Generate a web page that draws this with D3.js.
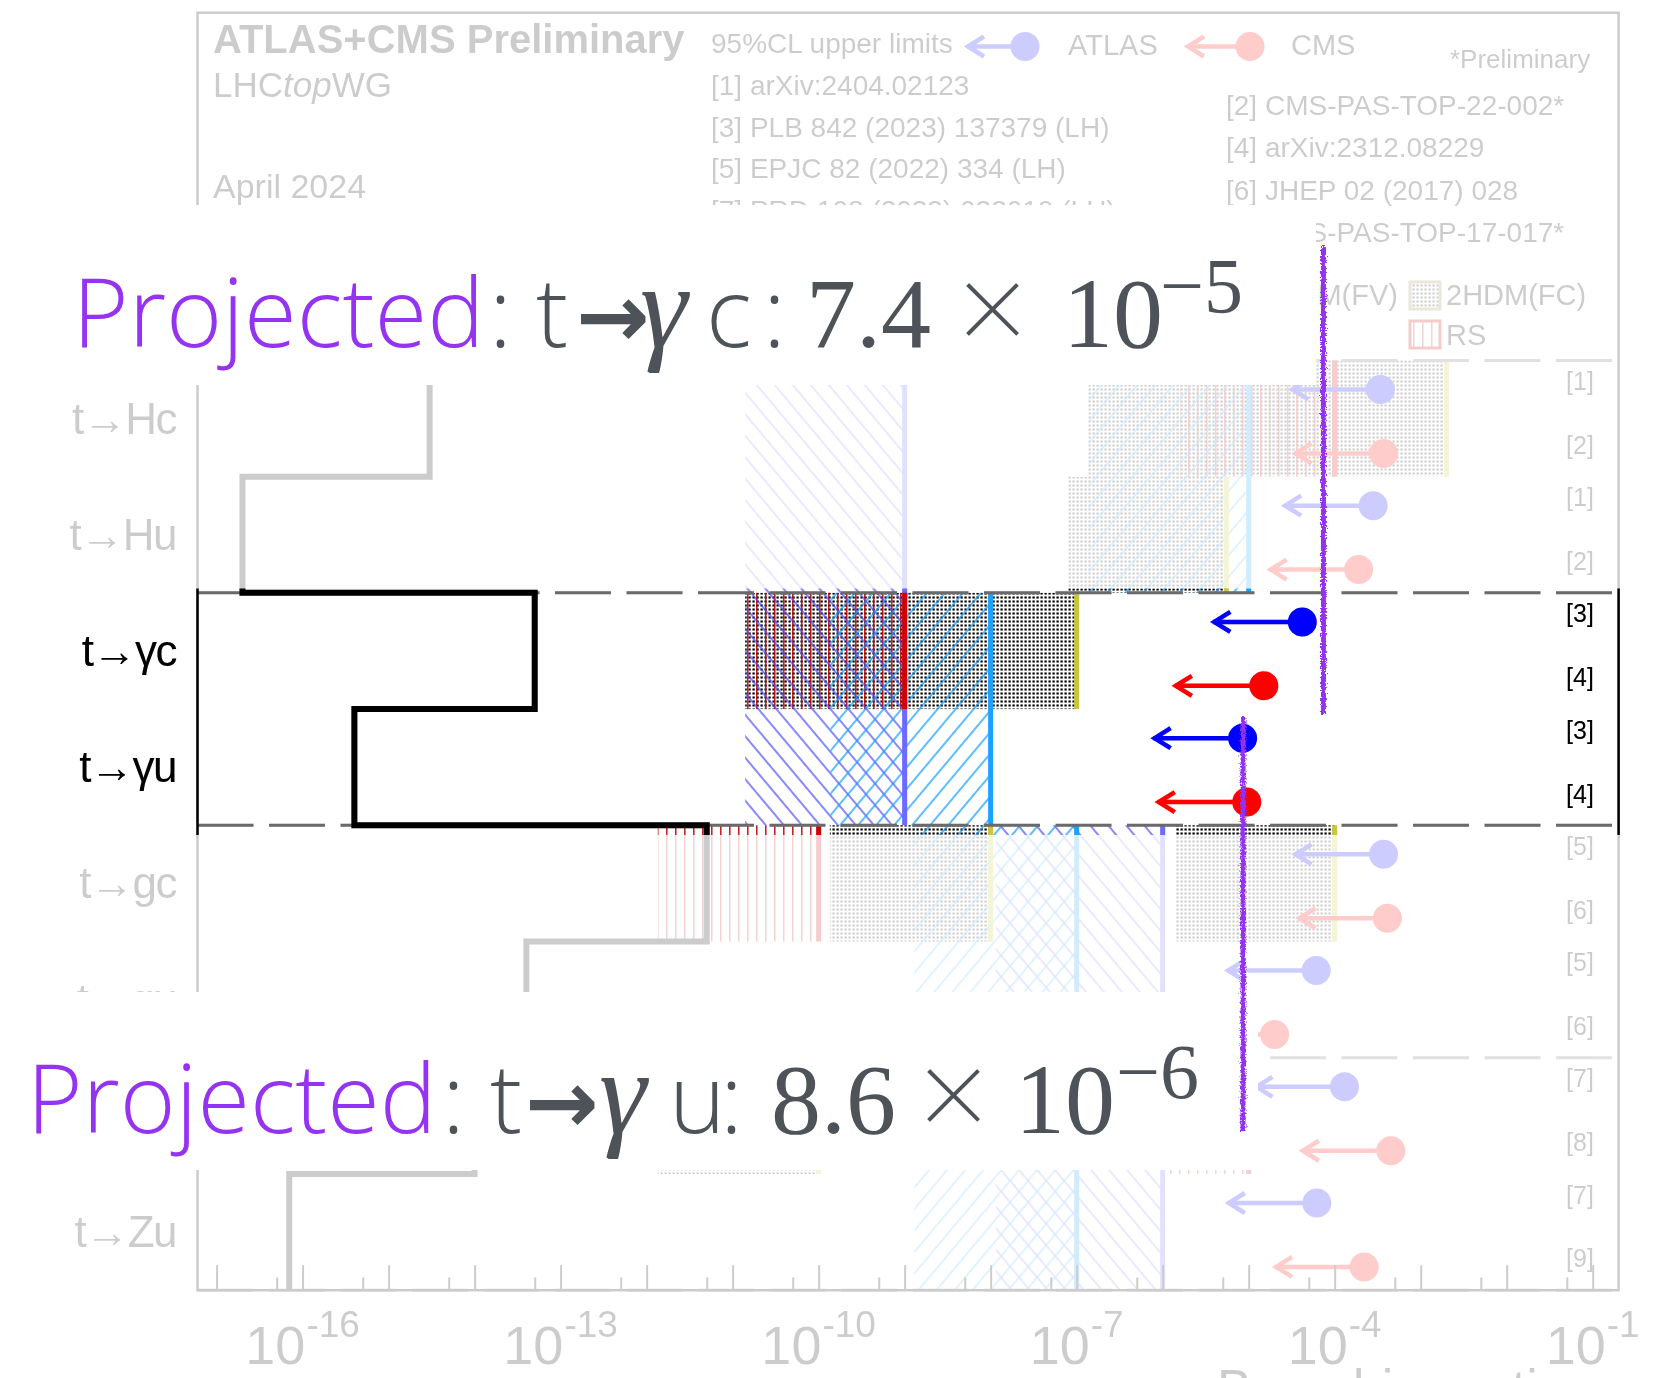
<!DOCTYPE html>
<html><head><meta charset="utf-8">
<script src="https://cdn.jsdelivr.net/npm/d3@7"></script>
<style>html,body{margin:0;padding:0;background:#fff;} svg{display:block;}</style>
</head><body>
<script>
// ---- processes, SM expectations and measured 95% CL upper limits ----
const categories = ["t→Hc","t→Hu","t→γc","t→γu","t→gc","t→gu","t→Zc","t→Zu"];
const smValues    = [3e-15, 2e-17, 5e-14, 4e-16, 5e-12, 4e-14, 1e-14, 7e-17];
const atlasLimits = [3.4e-4, 2.8e-4, 4.2e-5, 8.5e-6, 3.7e-4, 6.1e-5, 1.3e-4, 6.2e-5];
const cmsLimits   = [3.7e-4, 1.9e-4, 1.5e-5, 9.5e-6, 4.1e-4, 2.0e-5, 4.5e-4, 2.2e-4];
const atlasRefs = ["[1]","[1]","[3]","[3]","[5]","[5]","[7]","[7]"];
const cmsRefs   = ["[2]","[2]","[4]","[4]","[6]","[6]","[8]","[9]"];

// ---- model prediction bands (style, first row, end row, low, high) ----
const bandStyle = ["dots","dots","dots","dots","dots","dots","rs","rs","rs","rs","blue","blue","cyan","cyan","cyan"];
const bandFrom  = [0, 1, 2, 4, 4, 6, 0, 2, 4, 6, 0, 4, 0, 2, 4];
const bandTo    = [1, 2, 3, 5, 5, 7, 1, 3, 5, 7, 4, 8, 2, 4, 8];
const bandLow   = [1.37e-7, 8e-8, 1.4e-11, 1.35e-10, 1.4e-6, 1.35e-12, 1.6e-6, 1.4e-11, 1.35e-12, 1.2e-6, 1.4e-11, 1.15e-8, 1.37e-7, 1.37e-10, 1.3e-9];
const bandHigh  = [2e-3, 5.5e-6, 1e-7, 1e-8, 1e-4, 1e-10, 1e-4, 1e-9, 1e-10, 1e-5, 1e-9, 1e-6, 1e-5, 1e-8, 1e-7];

// ---- axis labelling ----
const majorTicks = d3.range(-17, 0).map(e => Math.pow(10, e));
const minorTicks = d3.range(-17, -1).map(e => 5 * Math.pow(10, e));
const labelExponents = [-16, -13, -10, -7, -4, -1];

// ---- header and legend texts ----
const refsLeft  = ["[1] arXiv:2404.02123", "[3] PLB 842 (2023) 137379 (LH)", "[5] EPJC 82 (2022) 334 (LH)", "[7] PRD 108 (2023) 032019 (LH)"];
const refsRight = ["[2] CMS-PAS-TOP-22-002*", "[4] arXiv:2312.08229", "[6] JHEP 02 (2017) 028", "[8] CMS-PAS-TOP-17-017*"];

// ---- projected sensitivities ----
const projectedGammaC = 7.4e-5;
const projectedGammaU = 8.6e-6;

const W = 1672, H = 1378;
const SANS = "'Liberation Sans', Arial, Helvetica, sans-serif";
const SERIF = "'Liberation Serif', 'Times New Roman', Times, serif";
const LIGHT = "'Open Sans', Roboto, sans-serif";

const x = d3.scaleLog().domain([6e-18, 0.2]).range([197.5, 1618.6]);
const y = d3.scaleLinear().domain([0, 8]).range([360.4, 1290.2]);
const frame = {x0: 197.5, x1: 1618.6, y0: 12.7, y1: 1290.2};

const svg = d3.select("body").append("svg").attr("width", W).attr("height", H);
const defs = svg.append("defs");

// fill patterns
const pd = defs.append("pattern").attr("id", "pDots").attr("patternUnits", "userSpaceOnUse")
  .attr("width", 4).attr("height", 4);
pd.append("rect").attr("x", 0.5).attr("y", 0.5).attr("width", 2.2).attr("height", 2).attr("fill", "#000");

const pr = defs.append("pattern").attr("id", "pRS").attr("patternUnits", "userSpaceOnUse")
  .attr("width", 9).attr("height", 10);
pr.append("line").attr("x1", 0.8).attr("x2", 0.8).attr("y1", 0).attr("y2", 10)
  .attr("stroke", "#c00000").attr("stroke-width", 1.3);

function hatch(id, angle, color) {
  const p = defs.append("pattern").attr("id", id).attr("patternUnits", "userSpaceOnUse")
    .attr("width", 13.8).attr("height", 20).attr("patternTransform", `rotate(${angle})`);
  p.append("line").attr("x1", 1).attr("x2", 1).attr("y1", -2).attr("y2", 22)
    .attr("stroke", color).attr("stroke-width", 1.2);
}
hatch("pBlue", -40, "#4b4bff");
hatch("pCyan", 40, "#0a9cff");

const styleFill = {dots: "url(#pDots)", rs: "url(#pRS)", blue: "url(#pBlue)", cyan: "url(#pCyan)"};
const styleEdge = {dots: "#c9c63a", rs: "#d20000", blue: "#6b6bff", cyan: "#1aa2ff"};

defs.append("clipPath").attr("id", "hl").append("rect")
  .attr("x", 0).attr("y", 588.5).attr("width", W).attr("height", 835 - 588.5);

// hand-drawn look for the projection markers
const rough = defs.append("filter").attr("id", "rough").attr("filterUnits", "userSpaceOnUse")
  .attr("x", 0).attr("y", 0).attr("width", W).attr("height", H);
rough.append("feTurbulence").attr("type", "fractalNoise").attr("baseFrequency", 0.6)
  .attr("numOctaves", 2).attr("seed", 4).attr("result", "n");
rough.append("feDisplacementMap").attr("in", "SourceGraphic").attr("in2", "n")
  .attr("scale", 6).attr("xChannelSelector", "R").attr("yChannelSelector", "G");

function limitMarker(g, xv, yv, color, len) {
  const tip = xv - len;
  g.append("line").attr("x1", tip).attr("x2", xv).attr("y1", yv).attr("y2", yv)
    .attr("stroke", color).attr("stroke-width", 4.5);
  g.append("polyline").attr("points", `${tip + 17},${yv - 10} ${tip + 1},${yv} ${tip + 17},${yv + 10}`)
    .attr("fill", "none").attr("stroke", color).attr("stroke-width", 4.5);
  g.append("circle").attr("cx", xv).attr("cy", yv).attr("r", 14.5).attr("fill", color);
}

function drawChart(g) {
  // header
  g.append("text").attr("x", 213).attr("y", 53).attr("font-family", SANS).attr("font-weight", "bold")
    .attr("font-size", 40).text("ATLAS+CMS Preliminary");
  const lhc = g.append("text").attr("x", 213).attr("y", 97).attr("font-family", SANS).attr("font-size", 35);
  lhc.append("tspan").text("LHC");
  lhc.append("tspan").attr("font-style", "italic").text("top");
  lhc.append("tspan").text("WG");
  g.append("text").attr("x", 213).attr("y", 198).attr("font-family", SANS).attr("font-size", 34).text("April 2024");

  // legend: experiments
  g.append("text").attr("x", 711).attr("y", 53).attr("font-family", SANS).attr("font-size", 28).text("95%CL upper limits");
  limitMarker(g, 1025, 46.5, "#0000ff", 58);
  g.append("text").attr("x", 1068).attr("y", 55).attr("font-family", SANS).attr("font-size", 29).text("ATLAS");
  limitMarker(g, 1250, 46.5, "#ff0000", 63);
  g.append("text").attr("x", 1291).attr("y", 55).attr("font-family", SANS).attr("font-size", 29).text("CMS");
  g.append("text").attr("x", 1450).attr("y", 68).attr("font-family", SANS).attr("font-size", 26).text("*Preliminary");
  refsLeft.forEach((t, i) => g.append("text").attr("x", 711).attr("y", 95 + i * 41.7)
    .attr("font-family", SANS).attr("font-size", 28).text(t));
  refsRight.forEach((t, i) => g.append("text").attr("x", 1226).attr("y", 115 + i * 42.3)
    .attr("font-family", SANS).attr("font-size", 28).text(t));

  // legend: models
  g.append("text").attr("x", 1398).attr("y", 305).attr("text-anchor", "end").attr("font-family", SANS)
    .attr("font-size", 29).text("2HDM(FV)");
  g.append("rect").attr("x", 1410).attr("y", 282).attr("width", 30).attr("height", 27)
    .attr("fill", "url(#pDots)").attr("stroke", "#8f8c45").attr("stroke-width", 3);
  g.append("text").attr("x", 1446).attr("y", 305).attr("font-family", SANS).attr("font-size", 29).text("2HDM(FC)");
  g.append("rect").attr("x", 1410).attr("y", 321).attr("width", 30).attr("height", 27)
    .attr("fill", "url(#pRS)").attr("stroke", "#cc0000").attr("stroke-width", 3);
  g.append("text").attr("x", 1446).attr("y", 345).attr("font-family", SANS).attr("font-size", 29).text("RS");

  // prediction bands
  const idx = d3.range(bandStyle.length);
  g.append("g").selectAll("rect").data(idx).join("rect")
    .attr("x", i => x(bandLow[i])).attr("width", i => x(bandHigh[i]) - x(bandLow[i]))
    .attr("y", i => y(bandFrom[i])).attr("height", i => y(bandTo[i]) - y(bandFrom[i]))
    .attr("fill", i => styleFill[bandStyle[i]]);
  const edgeOrder = idx.filter(i => bandStyle[i] === "dots")
    .concat(idx.filter(i => bandStyle[i] === "blue"))
    .concat(idx.filter(i => bandStyle[i] === "cyan"))
    .concat(idx.filter(i => bandStyle[i] === "rs"));
  g.append("g").selectAll("line").data(edgeOrder).join("line")
    .attr("x1", i => x(bandHigh[i])).attr("x2", i => x(bandHigh[i]))
    .attr("y1", i => y(bandFrom[i])).attr("y2", i => y(bandTo[i]))
    .attr("stroke", i => styleEdge[bandStyle[i]]).attr("stroke-width", 5);

  // separators between process pairs
  [0, 2, 4, 6, 8].forEach(r => g.append("line").attr("x1", frame.x0).attr("x2", frame.x1)
    .attr("y1", y(r)).attr("y2", y(r)).attr("stroke", "#6a6a6a").attr("stroke-width", 3)
    .attr("stroke-dasharray", "56 15.5"));

  // SM expectation as a step line
  const pts = [];
  smValues.forEach((v, i) => { pts.push([x(v), y(i)]); pts.push([x(v), y(i + 1)]); });
  g.append("path").attr("d", d3.line()(pts)).attr("fill", "none").attr("stroke", "#000")
    .attr("stroke-width", 6).attr("stroke-linejoin", "miter");

  // limits
  categories.forEach((c, i) => {
    limitMarker(g, x(atlasLimits[i]), y(i + 0.25), "#0000ff", 89);
    limitMarker(g, x(cmsLimits[i]), y(i + 0.8), "#ff0000", 89);
    g.append("text").attr("x", 1580).attr("y", y(i + 0.25) + 0.5).attr("text-anchor", "middle")
      .attr("font-family", SANS).attr("font-size", 25).text(atlasRefs[i]);
    g.append("text").attr("x", 1580).attr("y", y(i + 0.8) + 0.5).attr("text-anchor", "middle")
      .attr("font-family", SANS).attr("font-size", 25).text(cmsRefs[i]);
    g.append("text").attr("x", 176).attr("y", y(i + 0.5) + 15).attr("text-anchor", "end")
      .attr("font-family", SANS).attr("font-size", 44).attr("letter-spacing", -1.5).text(c);
  });

  // frame and axis
  g.append("rect").attr("x", frame.x0).attr("y", frame.y0).attr("width", frame.x1 - frame.x0)
    .attr("height", frame.y1 - frame.y0).attr("fill", "none").attr("stroke", "#000").attr("stroke-width", 2.5);
  const axMaj = g.append("g").attr("transform", `translate(0,${frame.y1})`)
    .call(d3.axisBottom(x).tickValues(majorTicks).tickSize(-25).tickFormat(""));
  const axMin = g.append("g").attr("transform", `translate(0,${frame.y1})`)
    .call(d3.axisBottom(x).tickValues(minorTicks).tickSize(-12.7).tickFormat(""));
  [axMaj, axMin].forEach(a => { a.select(".domain").remove();
    a.selectAll("line").attr("stroke", "#000").attr("stroke-width", 2); });
  labelExponents.forEach(e => {
    const t = g.append("text").attr("x", x(Math.pow(10, e))).attr("y", 1364).attr("text-anchor", "middle")
      .attr("font-family", SANS).attr("font-size", 54);
    t.append("tspan").text("10");
    t.append("tspan").attr("dy", -27).attr("dx", 1).attr("font-size", 37).text("-" + Math.abs(e));
  });
  g.append("text").attr("x", 1217).attr("y", 1406).attr("font-family", SANS).attr("font-size", 52).text("Branching ratio");
}

// faded full chart, then the photon rows at full strength
drawChart(svg.append("g").attr("opacity", 0.2));
drawChart(svg.append("g").attr("clip-path", "url(#hl)"));

// projection callouts
const GRAY = "#4e5359", PURPLE = "#9433f2";
svg.append("rect").attr("x", 0).attr("y", 205).attr("width", 1316).attr("height", 180).attr("fill", "#fff");
svg.append("rect").attr("x", 0).attr("y", 992).attr("width", 1258).attr("height", 178).attr("fill", "#fff");

svg.append("line").attr("x1", x(projectedGammaC)).attr("x2", x(projectedGammaC)).attr("y1", 246).attr("y2", 714)
  .attr("stroke", PURPLE).attr("stroke-width", 5).attr("filter", "url(#rough)");
svg.append("line").attr("x1", x(projectedGammaU)).attr("x2", x(projectedGammaU)).attr("y1", 717).attr("y2", 1131)
  .attr("stroke", PURPLE).attr("stroke-width", 5).attr("filter", "url(#rough)");

function piece(xp, yp, str, font, size, color, extra) {
  const t = svg.append("text").attr("x", xp).attr("y", yp).attr("font-family", font)
    .attr("font-size", size).attr("fill", color).text(str);
  if (extra) Object.entries(extra).forEach(([k, v]) => t.attr(k, v));
  return t;
}
const light = {"font-weight": 300};
function callout(yb, d) {
  piece(d.p, yb, "Projected", LIGHT, 96, PURPLE, Object.assign({textLength: d.pw, lengthAdjust: "spacingAndGlyphs"}, light));
  piece(d.c1, yb, ":", LIGHT, 96, GRAY, light);
  piece(d.t, yb, "t", LIGHT, 96, GRAY, light);
  piece(d.a, yb, "→", "'DejaVu Sans', sans-serif", 88, GRAY, {"font-weight": "bold"});
  piece(d.g, yb, "γ", SERIF, 120, GRAY, {"font-style": "italic"});
  piece(d.q, yb, d.qs, LIGHT, 96, GRAY, light);
  piece(d.c2, yb, ":", LIGHT, 96, GRAY, light);
  piece(d.m, yb, d.ms, SERIF, 100, GRAY);
  piece(d.x, yb + 9, "×", SERIF, 140, GRAY, {stroke: "#fff", "stroke-width": 3});
  piece(d.ten, yb, "10", SERIF, 100, GRAY);
  piece(d.e, yb - 35, d.es, SERIF, 78, GRAY);
}
callout(347, {p: 72.5, pw: 412, c1: 489, t: 536, a: 576, g: 640, q: 706, qs: "c", c2: 763, m: 806, ms: "7.4",
  x: 953, ten: 1063, e: 1160, es: "−5"});
callout(1133, {p: 26.7, pw: 410, c1: 442, t: 490, a: 525, g: 599, q: 669, qs: "u", c2: 720, m: 771, ms: "8.6",
  x: 914, ten: 1015, e: 1116, es: "−6"});
</script>
</body></html>
